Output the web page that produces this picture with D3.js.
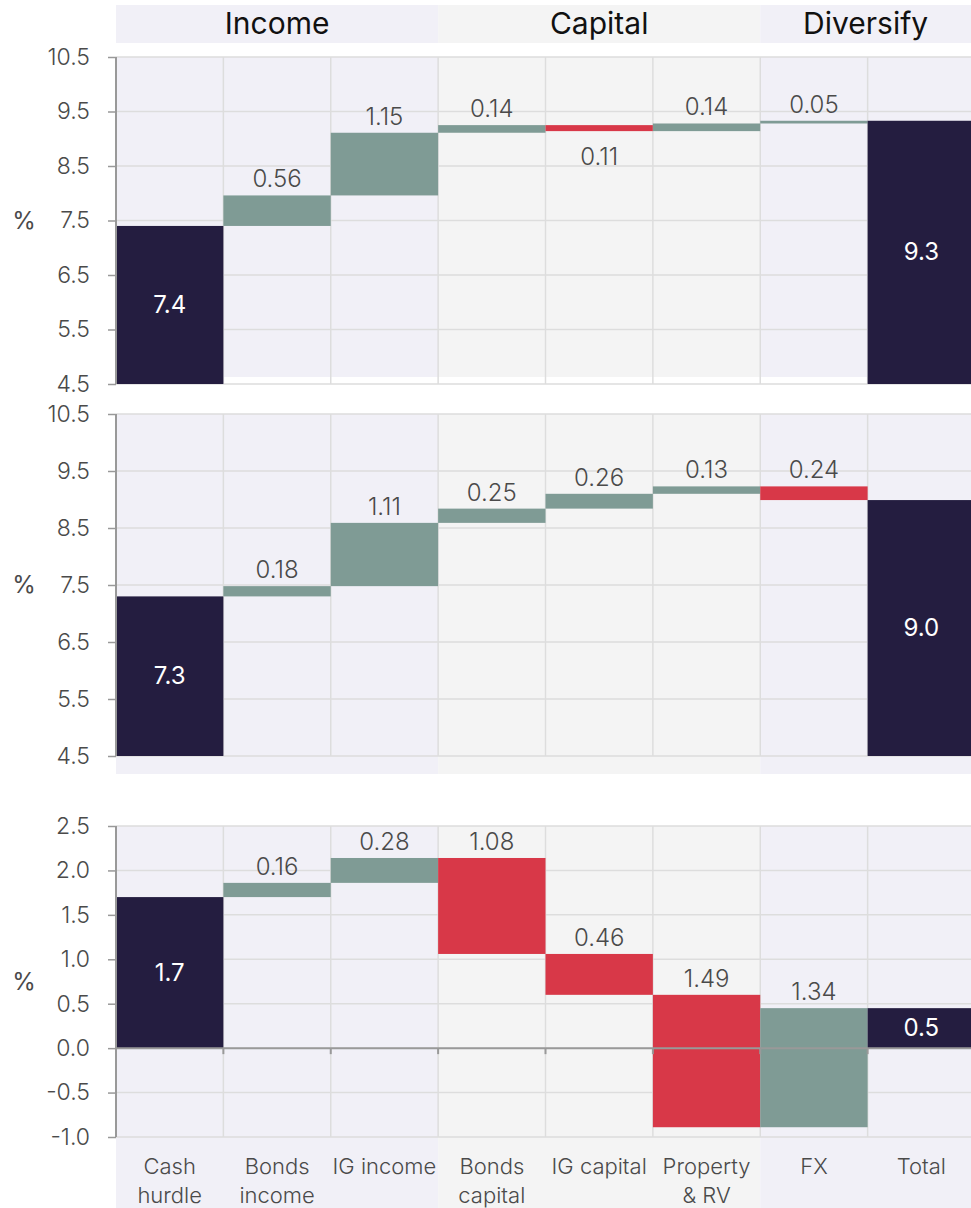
<!DOCTYPE html>
<html>
<head>
<meta charset="utf-8">
<script src="https://cdn.jsdelivr.net/npm/d3@7"></script>
<style>
  body { margin: 0; background: #fff; }
  svg { display: block; font-family: Inter, "Noto Sans", sans-serif; }
</style>
</head>
<body>
<svg id="chart"></svg>
<script>
// categories along the x axis (second line after "|")
const categories = ["Cash|hurdle", "Bonds|income", "IG income", "Bonds|capital", "IG capital", "Property|& RV", "FX", "Total"];
const groupNames = ["Income", "Capital", "Diversify"];
const groupFirst = [0, 3, 6];
const groupLast = [2, 5, 7];

// first and last entries are totals, the rest are steps
const topValues = [7.4, 0.56, 1.15, 0.14, -0.11, 0.14, 0.05, 9.3];
const middleValues = [7.3, 0.18, 1.11, 0.25, 0.26, 0.13, -0.24, 9.0];
const bottomValues = [1.7, 0.16, 0.28, -1.08, -0.46, -1.49, 1.34, 0.5];

const bigTicks = [4.5, 5.5, 6.5, 7.5, 8.5, 9.5, 10.5];
const smallTicks = [-1.0, -0.5, 0.0, 0.5, 1.0, 1.5, 2.0, 2.5];

const width = 971, height = 1208;
const colors = { total: "#241d40", up: "#7f9b95", down: "#d83848", lav: "#f1f0f7", grey: "#f4f4f4", grid: "#dddddd", axis: "#999999", text: "#4a4a4a" };
const fmt1 = v => d3.format(".1f")(v).replace("\u2212", "-");

const svg = d3.select("#chart").attr("width", width).attr("height", height);
const x = d3.scaleBand().domain(categories).range([116, 975]).padding(0);
const bw = x.bandwidth();

const panels = [
  { values: topValues, domain: [4.5, 10.5], range: [384, 57], ticks: bigTicks, bg: [57, 377], below: [4] },
  { values: middleValues, domain: [4.5, 10.5], range: [756, 414], ticks: bigTicks, bg: [414, 774], below: [] },
  { values: bottomValues, domain: [-1.0, 2.5], range: [1137, 826], ticks: smallTicks, bg: [826, 1208], below: [] }
];

function groupX0(i) { return x(categories[groupFirst[i]]); }
function groupX1(i) { return Math.min(width, x(categories[groupLast[i]]) + bw); }

// header bands
const header = svg.append("g");
groupNames.forEach((name, i) => {
  header.append("rect")
    .attr("x", groupX0(i)).attr("y", 5)
    .attr("width", groupX1(i) - groupX0(i)).attr("height", 38)
    .attr("fill", i === 1 ? colors.grey : colors.lav);
  header.append("text")
    .attr("x", (groupX0(i) + groupX1(i)) / 2).attr("y", 34)
    .attr("text-anchor", "middle")
    .attr("font-size", 30).attr("fill", "#111")
    .text(name);
});

panels.forEach(p => {
  const y = d3.scaleLinear().domain(p.domain).range(p.range);
  const g = svg.append("g");
  const base = p.domain[0] < 0 ? 0 : p.domain[0];

  // background bands
  groupNames.forEach((name, i) => {
    g.append("rect")
      .attr("x", groupX0(i)).attr("y", p.bg[0])
      .attr("width", groupX1(i) - groupX0(i)).attr("height", p.bg[1] - p.bg[0])
      .attr("fill", i === 1 ? colors.grey : colors.lav);
  });

  // grid
  g.selectAll(".hgrid").data(p.ticks).join("line")
    .attr("x1", 116).attr("x2", width)
    .attr("y1", d => y(d)).attr("y2", d => y(d))
    .attr("stroke", colors.grid).attr("stroke-width", 1.5);
  g.selectAll(".vgrid").data(categories.slice(1)).join("line")
    .attr("x1", d => x(d)).attr("x2", d => x(d))
    .attr("y1", p.range[1]).attr("y2", p.range[0])
    .attr("stroke", colors.grid).attr("stroke-width", 1.5);

  // waterfall steps
  let run = 0;
  const steps = p.values.map((v, i) => {
    let s;
    if (i === 0) { run = v; s = { lo: base, hi: v, type: "total", label: v }; }
    else if (i === p.values.length - 1) { s = { lo: base, hi: run, type: "total", label: v }; }
    else {
      const start = run; run += v;
      s = { lo: Math.min(start, run), hi: Math.max(start, run), type: v >= 0 ? "up" : "down", label: Math.abs(v) };
    }
    s.cat = categories[i]; s.i = i;
    return s;
  });

  g.selectAll(".bar").data(steps).join("rect")
    .attr("x", d => x(d.cat))
    .attr("width", d => Math.min(bw, width - x(d.cat)))
    .attr("y", d => y(d.hi))
    .attr("height", d => y(d.lo) - y(d.hi))
    .attr("fill", d => colors[d.type]);

  g.selectAll(".lab").data(steps).join("text")
    .attr("x", d => x(d.cat) + bw / 2)
    .attr("y", d => {
      if (d.type === "total") return (y(d.lo) + y(d.hi)) / 2 + 8;
      if (p.below.includes(d.i)) return y(d.lo) + 34;
      return y(d.hi) - 8;
    })
    .attr("text-anchor", "middle")
    .attr("font-size", 24)
    .attr("font-weight", d => d.type === "total" ? 400 : 300)
    .attr("fill", d => d.type === "total" ? "#fff" : colors.text)
    .text(d => d.type === "total" ? fmt1(d.label) : d3.format(".2f")(d.label));

  // zero line for the bottom panel
  if (p.domain[0] < 0) {
    g.append("line").attr("x1", 116).attr("x2", width)
      .attr("y1", y(0)).attr("y2", y(0))
      .attr("stroke", colors.axis).attr("stroke-width", 2);
    g.selectAll(".xt").data(categories.slice(1)).join("line")
      .attr("x1", d => x(d)).attr("x2", d => x(d))
      .attr("y1", y(0)).attr("y2", y(0) + 6)
      .attr("stroke", colors.axis).attr("stroke-width", 2);
  }

  // y axis
  const axis = g.append("g").attr("transform", "translate(116,0)")
    .call(d3.axisLeft(y).tickValues(p.ticks).tickFormat(fmt1).tickSize(8).tickPadding(18));
  axis.select(".domain").attr("stroke", colors.axis).attr("stroke-width", 2).attr("d", `M0,${p.range[1]}V${p.range[0]}`);
  axis.selectAll(".tick line").attr("stroke", colors.axis).attr("stroke-width", 1.5);
  axis.selectAll(".tick text").attr("font-size", 23).attr("font-weight", 300).attr("fill", colors.text)
    .attr("font-family", "Inter, 'Noto Sans', sans-serif");

  g.append("text")
    .attr("x", 24).attr("y", (p.range[0] + p.range[1]) / 2 + 8)
    .attr("text-anchor", "middle")
    .attr("font-size", 24).attr("fill", colors.text)
    .text("%");
});

// category labels under the bottom panel
const xl = svg.append("g");
categories.forEach(c => {
  const t = xl.append("text")
    .attr("x", x(c) + bw / 2).attr("y", 1174)
    .attr("text-anchor", "middle")
    .attr("font-size", 22).attr("font-weight", 300).attr("fill", colors.text);
  c.split("|").forEach((line, k) => {
    t.append("tspan").attr("x", x(c) + bw / 2).attr("dy", k === 0 ? 0 : 29).text(line);
  });
});
</script>
</body>
</html>
